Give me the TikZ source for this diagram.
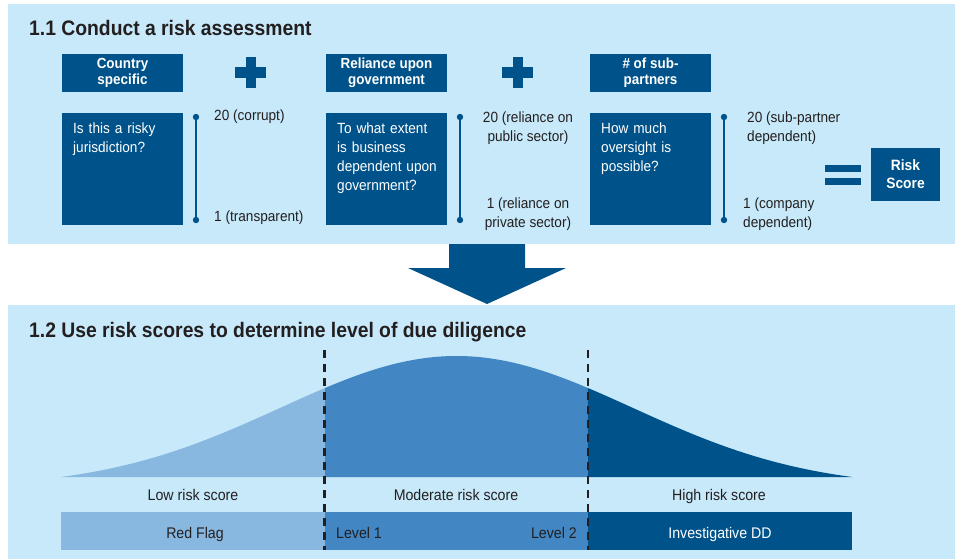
\documentclass[tikz,border=0pt]{standalone}
\usepackage{fontspec}
\setmainfont{Liberation Sans}[FakeStretch=0.92]
\usetikzlibrary{positioning}

\definecolor{panelblue}{HTML}{C7E9F9}
\definecolor{boxblue}{HTML}{00528A}
\definecolor{lowblue}{HTML}{88B8E0}
\definecolor{midblue}{HTML}{4287C3}
\definecolor{ink}{HTML}{231F20}

\tikzset{
  title/.style={anchor=base west, inner sep=0pt, text=ink, font=\bfseries\fontsize{21}{24}\selectfont},
  headbox/.style={fill=boxblue, text=white, align=center, inner sep=0pt,
    minimum width=121pt, minimum height=38pt, font=\bfseries\fontsize{14.6}{16}\selectfont},
  qbox/.style={fill=boxblue, anchor=north west, inner sep=0pt, minimum width=121pt, minimum height=112pt},
  qtext/.style={anchor=north west, inner sep=0pt, text=white, align=left, text width=110pt,
    font=\fontsize{14.8}{19}\selectfont},
  scaletext/.style={inner sep=0pt, text=ink, font=\fontsize{14.8}{19}\selectfont},
  scaleline/.style={boxblue, line width=1.8pt},
  scaledot/.style={fill=boxblue},
  band/.style={inner sep=0pt, text=ink, font=\fontsize{15.4}{17}\selectfont},
  divider/.style={ink, line width=2.4pt, dash pattern=on 8pt off 6pt},
  bell/.style={samples=80, smooth}
}

\begin{document}
\begin{tikzpicture}[x=1pt, y=-1pt]
\useasboundingbox (0,0) rectangle (955,559);

\fill[panelblue] (8,4) rectangle (955,244);
\fill[panelblue] (8,305) rectangle (955,559);

\node[title] (t1) at (29,36) {1.1 Conduct a risk assessment};
\node[title] (t2) at (29,337) {1.2 Use risk scores to determine level of due diligence};

% factors
\node[headbox] (h1) at (122.5,73) {Country\\specific};
\node[headbox] (h2) at (386.5,73) {Reliance upon\\government};
\node[headbox] (h3) at (650.5,73) {\# of sub-\\partners};

\node[qbox] (q1) at (62,113) {};
\node[qbox] (q2) at (326,113) {};
\node[qbox] (q3) at (590,113) {};
\node[qtext] (q1t) at (73,122.5) {Is this a risky\\jurisdiction?};
\node[qtext] (q2t) at (337,122.5) {To what extent\\is business\\dependent upon\\government?};
\node[qtext] (q3t) at (601,122.5) {How much\\oversight is\\possible?};

\foreach \cx in {250.5,517.5} {
  \fill[boxblue] (\cx-15.5,67.5) rectangle (\cx+15.5,78);
  \fill[boxblue] (\cx-5,57) rectangle (\cx+5,88);
}

% scales 1 to 20
\foreach \i/\sx in {1/196,2/460,3/724} {
  \coordinate (s\i top) at (\sx,117);
  \coordinate (s\i bot) at (\sx,220);
  \draw[scaleline] (s\i top) -- (s\i bot);
  \fill[scaledot] (s\i top) circle (3.2pt);
  \fill[scaledot] (s\i bot) circle (3.2pt);
}
\node[scaletext, anchor=base west] (c20) at (214,121) {20 (corrupt)};
\node[scaletext, anchor=base west] (c1) at (214,221) {1 (transparent)};
\node[scaletext, anchor=base, align=center] (g20) at (528,142) {20 (reliance on\\public sector)};
\node[scaletext, anchor=base, align=center] (g1) at (528,227) {1 (reliance on\\private sector)};
\node[scaletext, anchor=base west, align=left] (p20) at (747,142) {20 (sub-partner\\dependent)};
\node[scaletext, anchor=base west, align=left] (p1) at (743,227) {1 (company\\dependent)};

\fill[boxblue] (825,165) rectangle (861,172);
\fill[boxblue] (825,178) rectangle (861,184.5);
\node[headbox, minimum width=69pt, minimum height=53pt, font=\bfseries\fontsize{15}{18}\selectfont]
  (score) at (905.5,174.5) {Risk\\Score};

\fill[boxblue] (449,244) -- (525,244) -- (525,268) -- (566,268) -- (487,304)
  -- (408,268) -- (449,268) -- cycle;

% distribution
\fill[lowblue] (61,477) -- plot[bell, domain=-2.247:-0.75]
  ({456.5+176*\x}, {477-131.5*(exp(-\x*\x/2)-0.08)}) -- (324.5,477) -- cycle;
\fill[midblue] (324.5,477) -- plot[bell, domain=-0.75:0.747]
  ({456.5+176*\x}, {477-131.5*(exp(-\x*\x/2)-0.08)}) -- (588,477) -- cycle;
\fill[boxblue] (588,477) -- plot[bell, domain=0.747:2.247]
  ({456.5+176*\x}, {477-131.5*(exp(-\x*\x/2)-0.08)}) -- (852,477) -- cycle;

\node[band, anchor=base] (low) at (193,500) {Low risk score};
\node[band, anchor=base] (mod) at (456,500) {Moderate risk score};
\node[band, anchor=base] (high) at (719,500) {High risk score};

\fill[lowblue] (61,512) rectangle (324.5,550);
\fill[midblue] (324.5,512) rectangle (588,550);
\fill[boxblue] (588,512) rectangle (852,550);
\node[band, anchor=base] (flag) at (195,538) {Red Flag};
\node[band, anchor=base west] (lv1) at (336,538) {Level 1};
\node[band, anchor=base east] (lv2) at (577,538) {Level 2};
\node[band, anchor=base, text=white] (inv) at (720,538) {Investigative DD};

\coordinate (d1top) at (324.5,350);
\coordinate (d1bot) at (324.5,550);
\coordinate (d2top) at (588,350);
\coordinate (d2bot) at (588,550);
\draw[divider] (d1top) -- (d1bot);
\draw[divider] (d2top) -- (d2bot);
\end{tikzpicture}
\end{document}
